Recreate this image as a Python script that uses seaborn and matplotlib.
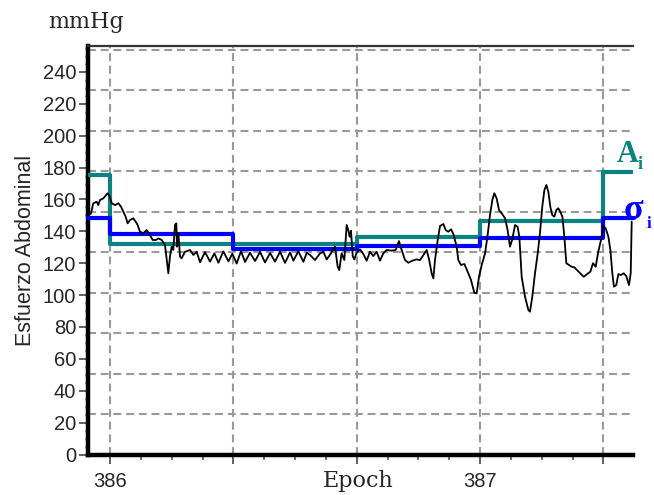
import numpy as np
import pandas as pd
import matplotlib
matplotlib.use("Agg")
import matplotlib.pyplot as plt
from matplotlib.ticker import MultipleLocator, FixedLocator, FixedFormatter
import seaborn as sns

# ---------------- data (time in seconds from start of epoch 386) ----------------
sig_t = [
    -1.75, -1.54, -1.36, -1.08, -0.95, -0.81, -0.54, -0.19, -0.08, 0.14, 0.41, 0.68, 0.89,
    1.08, 1.27, 1.43, 1.62, 1.89, 2.08, 2.24, 2.43, 2.70, 2.97, 3.24, 3.46, 3.73, 3.92,
    4.19, 4.46, 4.59, 4.73, 4.86, 5.00, 5.13, 5.27, 5.38, 5.43, 5.54, 5.68, 5.81, 6.08,
    6.49, 6.76, 7.03,
    7.30, 7.70, 8.11, 8.46, 8.79, 9.19, 9.60, 9.92, 10.27, 10.62, 10.95, 11.35, 11.76,
    12.17, 12.57, 12.98, 13.38, 13.79, 14.19, 14.60, 14.87, 15.27, 15.68, 15.95,
    16.22, 16.62, 17.03, 17.30, 17.57, 17.92, 18.24, 18.46, 18.59, 18.78, 19.00, 19.19,
    19.32, 19.43, 19.54, 19.68, 19.81, 20.00, 20.27, 20.54, 20.81, 21.08, 21.35, 21.62,
    21.89, 22.16, 22.43, 22.84, 23.16, 23.43, 23.65, 23.92, 24.19, 24.51, 24.86,
    25.14, 25.41, 25.68, 25.87, 26.08, 26.22,
    26.35, 26.57, 26.76, 27.03, 27.22, 27.43, 27.65, 27.84, 28.11, 28.24, 28.46, 28.73,
    29.00, 29.27, 29.54, 29.73, 29.92, 30.14, 30.41, 30.62, 30.81, 31.00, 31.16, 31.35,
    31.54, 31.76, 32.03, 32.24, 32.43, 32.62, 32.84, 33.05, 33.19, 33.38, 33.65,
    33.92, 34.05, 34.24, 34.46, 34.68, 34.86, 35.05, 35.22, 35.38, 35.54, 35.70, 35.86,
    36.03, 36.19, 36.35, 36.51, 36.68, 36.84, 37.00, 37.22, 37.43, 37.65, 37.92, 38.19,
    38.41, 38.68, 38.95, 39.16, 39.38, 39.59, 39.81, 40.00, 40.19, 40.41, 40.57, 40.73,
    40.86, 41.05, 41.22, 41.43, 41.65, 41.86, 42.08, 42.22, 42.30,
]
sig_v = [
    150.3, 151.3, 157.6, 158.6, 156.5, 159.7, 160.7, 163.9, 162.8, 157.6, 156.5, 157.6, 155.5,
    152.3, 149.2, 145.0, 147.1, 148.2, 146.1, 144.0, 139.8, 138.8, 140.8, 137.7, 134.6, 134.6, 135.6,
    134.6, 131.4, 123.1, 113.7, 124.1, 130.4, 128.3, 144.0, 145.0, 130.4, 138.8, 124.1, 123.1, 127.2,
    128.3, 125.2, 127.2,
    120.6, 127.0, 121.0, 126.2, 120.3, 127.4, 121.2, 126.0, 119.8, 127.6, 120.8, 126.6, 121.4,
    127.1, 120.5, 126.4, 121.0, 127.3, 120.2, 126.8, 121.6, 127.5, 120.9, 126.5,
    125.2, 122.0, 126.2, 127.2, 122.4, 126.2, 130.4, 117.8, 115.7, 126.2, 122.0, 144.0,
    140.8, 136.6, 140.4, 124.5, 122.4, 126.6, 128.7, 125.8, 121.6, 127.2, 124.5, 127.2,
    121.6, 126.2, 128.3, 127.9, 128.3, 133.9, 128.3, 122.0, 120.3, 121.6, 122.4,
    122.0, 125.2, 128.3, 122.5, 113.7, 110.5,
    122.0, 134.6, 143.4, 144.6, 140.8, 139.8, 141.3, 138.3, 130.4, 122.0, 118.9, 119.5,
    114.7, 109.5, 101.5, 101.1, 111.5, 118.9, 126.2, 137.7, 150.2, 159.7, 163.9, 160.7,
    153.4, 151.3, 148.2, 140.8, 130.4, 135.0, 144.0, 142.9, 136.6, 111.5, 99.0,
    90.7, 89.6, 99.0, 113.7, 126.2, 138.8, 155.5, 165.9, 169.1, 164.9, 155.5, 150.2,
    149.2, 153.4, 154.5, 152.3, 149.2, 136.6, 120.0, 118.9, 117.8, 117.4, 115.3, 113.2,
    111.5, 113.2, 114.7, 120.0, 117.8, 127.2, 134.6, 143.4, 141.9, 136.6, 128.3, 113.7,
    105.3, 106.3, 113.2, 112.6, 113.7, 112.0, 106.3, 113.7, 146.1,
]

# step series (A_i and sigma_i), 10-second windows
step_t_A = [-1.78, 0.0, 10.0, 20.0, 30.0, 40.0, 42.3]
A_vals = [175.3, 132.1, 132.1, 136.4, 146.3, 177.4, 177.4]
step_t_S = [-1.78, 0.0, 10.0, 20.0, 30.0, 40.0, 42.5]
S_vals = [148.6, 138.6, 129.1, 130.8, 135.6, 148.6, 148.6]

epoch_ticks = [386, 387]
epoch_labels = ["386", "387"]
yticks = [0, 20, 40, 60, 80, 100, 120, 140, 160, 180, 200, 220, 240]
grid_y = [25.4, 50.8, 76.2, 101.6, 127.0, 152.4, 177.8, 203.2, 228.6, 254.0]

# ---------------- build frames ----------------
EPOCH_LEN = 30.0
sig = pd.DataFrame({"t": sig_t, "v": sig_v})
sig["x"] = 386 + sig["t"] / EPOCH_LEN
stepA = pd.DataFrame({"x": [386 + t / EPOCH_LEN for t in step_t_A], "v": A_vals})
stepS = pd.DataFrame({"x": [386 + t / EPOCH_LEN for t in step_t_S], "v": S_vals})

sns.set_style("white")
plt.rcParams["font.family"] = ["Liberation Sans", "DejaVu Sans"]

fig = plt.figure(figsize=(6.54, 4.95), dpi=100)
ax = fig.add_axes([88 / 654, 1 - 454.5 / 495, (633 - 88) / 654, (454.5 - 46) / 495])

xmin = 386 - 22 / 370
xmax = 386 + (633 - 110) / 370
ax.set_xlim(xmin, xmax)
ax.set_ylim(0, 256.3)

# grid
grid_kw = dict(color="#9a9a9a", lw=1.5, linestyle=(0, (3.8, 2.3)), zorder=0)
for gy in grid_y:
    ax.axhline(gy, **grid_kw)
for gx in [386, 386 + 1 / 3, 386 + 2 / 3, 387, 387 + 1 / 3]:
    ax.axvline(gx, **grid_kw)

TEAL = "#0b8383"
BLUE = "#0000ff"
sns.lineplot(data=stepA, x="x", y="v", ax=ax, color=TEAL, lw=3.0,
             drawstyle="steps-post", estimator=None, sort=False, zorder=3)
sns.lineplot(data=stepS, x="x", y="v", ax=ax, color=BLUE, lw=3.0,
             drawstyle="steps-post", estimator=None, sort=False, zorder=4)
for ln in ax.lines[-1:]:
    ln.set_clip_on(False)
sns.lineplot(data=sig, x="x", y="v", ax=ax, color="black", lw=1.3,
             estimator=None, sort=False, zorder=5)

# spines
for s in ["left", "bottom"]:
    ax.spines[s].set_linewidth(3.2)
    ax.spines[s].set_color("black")
ax.spines["top"].set_linewidth(1.6)
ax.spines["top"].set_color("#333333")
ax.spines["right"].set_visible(False)

# ticks
ax.xaxis.set_major_locator(FixedLocator([386, 386 + 1 / 3, 386 + 2 / 3, 387, 387 + 1 / 3]))
ax.xaxis.set_major_formatter(FixedFormatter(["386", "", "", "387", ""]))
ax.xaxis.set_minor_locator(MultipleLocator(1 / 12))
ax.yaxis.set_major_locator(FixedLocator(yticks))
ax.yaxis.set_minor_locator(MultipleLocator(5))
ax.tick_params(axis="x", which="major", length=6.5, width=1.3, color="#555555",
               labelsize=14.5, pad=6, direction="out", bottom=True)
ax.tick_params(axis="x", which="minor", length=3.5, width=1.2, color="#555555",
               direction="out", bottom=True)
ax.tick_params(axis="y", which="major", length=6.5, width=1.3, color="#555555",
               labelsize=14.5, pad=2, direction="out", left=True)
ax.tick_params(axis="y", which="minor", length=2.5, width=1.0, color="#555555",
               direction="out", left=True)

ax.set_xlabel("Epoch", family="DejaVu Serif", fontsize=16)
ax.set_ylabel("Esfuerzo Abdominal", fontsize=15.5, labelpad=5)
ax.xaxis.set_label_coords(0.495, -0.037, transform=ax.transAxes)
ax.xaxis.label.set_va("top")

fig.text(48 / 654, 1 - 28 / 495, "mmHg", family="DejaVu Serif", fontsize=16,
         ha="left", va="baseline")

# series labels
ax.text(386 + (617 - 110) / 370, 183.5, "A", color=TEAL, family="Liberation Serif",
        fontweight="bold", fontsize=22, ha="left", va="baseline", clip_on=False)
ax.text(386 + (638 - 110) / 370, 179.0, "i", color=TEAL, family="Liberation Serif",
        fontweight="bold", fontsize=13, ha="left", va="baseline", clip_on=False)
ax.text(386 + (624 - 110) / 370, 147.5, "σ", color=BLUE, family="Liberation Serif",
        fontweight="bold", fontsize=26, ha="left", va="baseline", clip_on=False)
ax.text(386 + (647 - 110) / 370, 142.0, "i", color=BLUE, family="Liberation Serif",
        fontweight="bold", fontsize=12, ha="left", va="baseline", clip_on=False)

fig.savefig("out.png", dpi=100)
